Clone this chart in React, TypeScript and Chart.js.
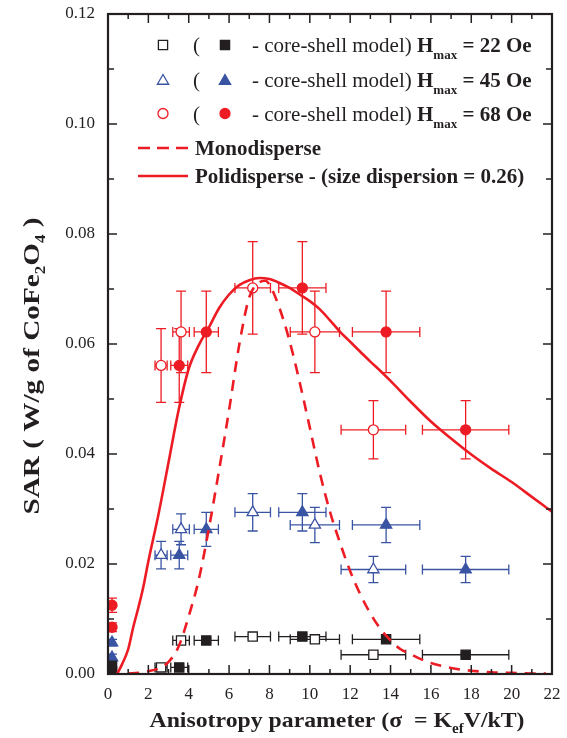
import React, { useEffect, useRef } from "react";
import { Chart, registerables } from "chart.js";

Chart.register(...registerables);

// ---------- axis ranges ----------
const X_MIN = 0;
const X_MAX = 22;
const X_STEP = 2;
const Y_MIN = 0;
const Y_MAX = 0.12;
const Y_STEP = 0.02;

// ---------- anisotropy parameter positions (shared by the three fields) ----------
const openX = [2.63, 3.62, 7.17, 10.25, 13.15];
const openXErr = [0.3, 0.41, 0.88, 1.22, 1.6];
const filledX = [0.2, 0.2, 3.53, 4.87, 9.63, 13.78, 17.72];
const filledXErr = [0, 0, 0.42, 0.6, 1.17, 1.67, 2.14];

// ---------- Hmax = 22 Oe (squares) ----------
const h22OpenY = [0.0012, 0.0061, 0.0068, 0.0063, 0.0035];
const h22OpenYErr = [0.0003, 0.0004, 0.0004, 0.0004, 0.0003];
const h22FilledY = [0.0015, 0.0005, 0.0012, 0.0061, 0.0068, 0.0063, 0.0035];
const h22FilledYErr = [0.0003, 0.0003, 0.0003, 0.0004, 0.0004, 0.0004, 0.0003];

// ---------- Hmax = 45 Oe (triangles) ----------
const h45OpenY = [0.0216, 0.0263, 0.0294, 0.0271, 0.019];
const h45OpenYErr = [0.0025, 0.0028, 0.0034, 0.0032, 0.0024];
const h45FilledY = [0.0057, 0.003, 0.0216, 0.0263, 0.0294, 0.0271, 0.019];
const h45FilledYErr = [0.0006, 0.0006, 0.0025, 0.0031, 0.0034, 0.0032, 0.0024];

// ---------- Hmax = 68 Oe (circles) ----------
const h68OpenY = [0.0561, 0.0622, 0.0702, 0.0622, 0.0444];
const h68OpenYErr = [0.0067, 0.0074, 0.0084, 0.0074, 0.0053];
const h68FilledY = [0.0125, 0.0085, 0.0561, 0.0622, 0.0702, 0.0622, 0.0444];
const h68FilledYErr = [0.0013, 0.0008, 0.0067, 0.0074, 0.0084, 0.0074, 0.0053];

// ---------- model curves ----------
const monoX = [1.0, 1.5, 2.0, 2.5, 3.0, 3.5, 4.0, 4.5, 5.0, 5.5, 6.0, 6.5, 7.0, 7.5, 7.8, 8.0, 8.5, 9.0, 9.5, 10.0, 10.5, 11.0, 11.5, 12.0, 12.5, 13.0, 13.5, 14.0, 14.5, 15.0, 15.5, 16.0, 16.5, 17.0, 17.5, 18.0, 19.0, 20.0, 21.0, 21.7];
const monoY = [0.0001, 0.0002, 0.0005, 0.001, 0.0022, 0.005, 0.0105, 0.0172, 0.0265, 0.037, 0.048, 0.0598, 0.0685, 0.0712, 0.0715, 0.0708, 0.0665, 0.0605, 0.053, 0.0448, 0.0365, 0.0295, 0.0238, 0.0187, 0.0145, 0.011, 0.0082, 0.0061, 0.0045, 0.0036, 0.0027, 0.002, 0.0015, 0.0011, 0.0008, 0.0006, 0.0003, 0.0002, 0.0001, 0.0001];

const polyX = [0.45, 0.7, 1.0, 1.25, 1.5, 1.75, 2.0, 2.5, 3.0, 3.5, 4.0, 4.5, 5.0, 5.5, 6.0, 6.5, 7.0, 7.5, 8.0, 8.5, 9.0, 9.5, 10.0, 10.5, 11.0, 11.5, 12.0, 12.5, 13.0, 13.5, 14.0, 15.0, 16.0, 17.0, 18.0, 19.0, 20.0, 21.0, 22.0];
const polyY = [0, 0.0018, 0.0045, 0.0085, 0.012, 0.0158, 0.0205, 0.029, 0.0385, 0.048, 0.0555, 0.0598, 0.063, 0.0665, 0.069, 0.0707, 0.0716, 0.072, 0.0718, 0.0711, 0.0702, 0.069, 0.0678, 0.0663, 0.0643, 0.0622, 0.0604, 0.0586, 0.0568, 0.0551, 0.0533, 0.0495, 0.0459, 0.0428, 0.0399, 0.0373, 0.0349, 0.0322, 0.0295];

// ---------- legend texts ----------
const fieldLabels = ["22 Oe", "45 Oe", "68 Oe"];
const modelLabels = ["Monodisperse", "Polidisperse - (size dispersion = 0.26)"];

const RED = "#ED1C24";
const BLUE = "#3A54A4";
const BLACK = "#231F20";
const INK = "#231F20";
const SERIF = "'Liberation Serif', 'Times New Roman', serif";

const pts = (xs: number[], ys: number[]) => xs.map((x, i) => ({ x, y: ys[i] }));

function markerPath(ctx: CanvasRenderingContext2D, style: string, x: number, y: number, r: number) {
  ctx.beginPath();
  if (style === "circle") {
    ctx.arc(x, y, r, 0, Math.PI * 2);
  } else if (style === "rect") {
    const s = r * Math.SQRT1_2;
    ctx.rect(x - s, y - s, 2 * s, 2 * s);
  } else {
    ctx.moveTo(x, y - r);
    ctx.lineTo(x + 0.866 * r, y + 0.5 * r);
    ctx.lineTo(x - 0.866 * r, y + 0.5 * r);
    ctx.closePath();
  }
}

function drawMarker(ctx: CanvasRenderingContext2D, style: string, x: number, y: number, r: number, color: string, open: boolean) {
  markerPath(ctx, style, x, y, r);
  ctx.fillStyle = open ? "#ffffff" : color;
  ctx.fill();
  ctx.lineWidth = 1.3;
  ctx.strokeStyle = color;
  ctx.stroke();
}

type Seg = { t: string; font: string; dy?: number };
function richWidth(ctx: CanvasRenderingContext2D, segs: Seg[]) {
  let w = 0;
  for (const s of segs) {
    ctx.font = s.font;
    w += ctx.measureText(s.t).width;
  }
  return w;
}
function drawRich(ctx: CanvasRenderingContext2D, segs: Seg[], x: number, y: number) {
  let cx = x;
  for (const s of segs) {
    ctx.font = s.font;
    ctx.fillText(s.t, cx, y + (s.dy || 0));
    cx += ctx.measureText(s.t).width;
  }
  return cx;
}

const errorBarPlugin = {
  id: "errorBars",
  beforeDatasetsDraw(chart: any) {
    const { ctx, chartArea: a } = chart;
    const xs = chart.scales.x;
    const ys = chart.scales.y;
    ctx.save();
    ctx.beginPath();
    ctx.rect(a.left, a.top, a.right - a.left, a.bottom - a.top);
    ctx.clip();
    ctx.lineWidth = 1.3;
    const cap = 5;
    chart.data.datasets.forEach((ds: any) => {
      if (!ds.errX) return;
      ctx.strokeStyle = ds.borderColor;
      ctx.beginPath();
      ds.data.forEach((p: any, i: number) => {
        const px = xs.getPixelForValue(p.x);
        const py = ys.getPixelForValue(p.y);
        const ex = ds.errX[i];
        const ey = ds.errY[i];
        if (ex > 0) {
          const l = xs.getPixelForValue(p.x - ex);
          const r = xs.getPixelForValue(p.x + ex);
          ctx.moveTo(l, py); ctx.lineTo(r, py);
          ctx.moveTo(l, py - cap); ctx.lineTo(l, py + cap);
          ctx.moveTo(r, py - cap); ctx.lineTo(r, py + cap);
        }
        if (ey > 0) {
          const t = ys.getPixelForValue(p.y + ey);
          const b = ys.getPixelForValue(p.y - ey);
          ctx.moveTo(px, t); ctx.lineTo(px, b);
          ctx.moveTo(px - cap, t); ctx.lineTo(px + cap, t);
          ctx.moveTo(px - cap, b); ctx.lineTo(px + cap, b);
        }
      });
      ctx.stroke();
    });
    ctx.restore();
  },
};

const framePlugin = {
  id: "frame",
  afterDraw(chart: any) {
    const { ctx, chartArea: a } = chart;
    const xs = chart.scales.x;
    const ys = chart.scales.y;
    ctx.save();
    ctx.strokeStyle = INK;
    ctx.lineWidth = 1.5;
    const xMaj = xs.ticks.map((t: any) => t.value);
    const xMin = xMaj.slice(1).map((v: number, i: number) => (v + xMaj[i]) / 2);
    const yMaj = ys.ticks.map((t: any) => t.value);
    const yMin = yMaj.slice(1).map((v: number, i: number) => (v + yMaj[i]) / 2);
    ctx.beginPath();
    const xt = (vals: number[], len: number) =>
      vals.forEach((v) => {
        const p = xs.getPixelForValue(v);
        ctx.moveTo(p, a.bottom); ctx.lineTo(p, a.bottom - len);
        ctx.moveTo(p, a.top); ctx.lineTo(p, a.top + len);
      });
    const yt = (vals: number[], len: number) =>
      vals.forEach((v) => {
        const p = ys.getPixelForValue(v);
        ctx.moveTo(a.left, p); ctx.lineTo(a.left + len, p);
        ctx.moveTo(a.right, p); ctx.lineTo(a.right - len, p);
      });
    xt(xMaj, 9); xt(xMin, 5);
    yt(yMaj, 9); yt(yMin, 6);
    ctx.stroke();
    ctx.lineWidth = 2.2;
    ctx.strokeRect(a.left, a.top, a.right - a.left, a.bottom - a.top);

    // ----- axis titles -----
    ctx.fillStyle = INK;
    ctx.textBaseline = "alphabetic";
    ctx.textAlign = "left";
    const B = (s: number) => `bold ${s}px ${SERIF}`;
    const xSegs: Seg[] = [
      { t: "Anisotropy parameter (σ  = K", font: B(22) },
      { t: "ef", font: B(14), dy: 6 },
      { t: "V/kT)", font: B(22) },
    ];
    const xw = richWidth(ctx, xSegs);
    ctx.save();
    ctx.translate(337, 727);
    ctx.scale(1.08, 1);
    drawRich(ctx, xSegs, -xw / 2, 0);
    ctx.restore();

    const ySegs: Seg[] = [
      { t: "SAR ( W/g of CoFe", font: B(24) },
      { t: "2", font: B(14), dy: 6 },
      { t: "O", font: B(24) },
      { t: "4", font: B(14), dy: 6 },
      { t: " )", font: B(24) },
    ];
    const yw = richWidth(ctx, ySegs);
    ctx.save();
    ctx.translate(39, 366);
    ctx.rotate(-Math.PI / 2);
    ctx.scale(297 / yw, 1);
    drawRich(ctx, ySegs, -yw / 2, 0);
    ctx.restore();

    // ----- legend -----
    const rows = [
      { style: "rect", color: BLACK, label: fieldLabels[0], cy: 45 },
      { style: "triangle", color: BLUE, label: fieldLabels[1], cy: 79.5 },
      { style: "circle", color: RED, label: fieldLabels[2], cy: 113.5 },
    ];
    rows.forEach((r) => {
      const rad = r.style === "circle" ? 5 : 6.5;
      const my = r.style === "triangle" ? r.cy + 1.5 : r.cy;
      drawMarker(ctx, r.style, 163, my, rad, r.color, true);
      drawMarker(ctx, r.style, 225, my, rad, r.color, false);
      ctx.fillStyle = INK;
      ctx.font = `21px ${SERIF}`;
      ctx.fillText("(", 193, r.cy + 7);
      drawRich(
        ctx,
        [
          { t: "- core-shell model) ", font: `21px ${SERIF}` },
          { t: "H", font: B(21) },
          { t: "max", font: B(13), dy: 7 },
          { t: " = " + r.label, font: B(21) },
        ],
        252,
        r.cy + 7
      );
    });
    ctx.strokeStyle = RED;
    ctx.lineWidth = 2.6;
    ctx.setLineDash([12, 7]);
    ctx.beginPath(); ctx.moveTo(138, 148); ctx.lineTo(188, 148); ctx.stroke();
    ctx.setLineDash([]);
    ctx.beginPath(); ctx.moveTo(138, 176); ctx.lineTo(188, 176); ctx.stroke();
    ctx.fillStyle = INK;
    ctx.font = B(21);
    ctx.fillText(modelLabels[0], 195, 155);
    ctx.fillText(modelLabels[1], 195, 183);
    ctx.restore();
  },
};

export default function App() {
  const ref = useRef<HTMLCanvasElement | null>(null);

  useEffect(() => {
    if (!ref.current) return;
    const scatter = (xs: number[], ys: number[], ex: number[], ey: number[], style: string, color: string, open: boolean) => ({
      type: "scatter" as const,
      data: pts(xs, ys),
      pointStyle: style,
      pointRadius: style === "circle" ? 5 : 6.5,
      backgroundColor: open ? "#ffffff" : color,
      borderColor: color,
      borderWidth: 1.3,
      errX: ex,
      errY: ey,
    });
    const chart = new Chart(ref.current, {
      type: "scatter",
      data: {
        datasets: [
          {
            type: "line",
            data: pts(monoX, monoY),
            borderColor: RED,
            borderWidth: 2.6,
            borderDash: [11, 8],
            pointRadius: 0,
            fill: false,
            showLine: true,
            cubicInterpolationMode: "monotone",
          } as any,
          {
            type: "line",
            data: pts(polyX, polyY),
            borderColor: RED,
            borderWidth: 2.6,
            pointRadius: 0,
            fill: false,
            showLine: true,
            cubicInterpolationMode: "monotone",
          } as any,
          scatter(openX, h22OpenY, openXErr, h22OpenYErr, "rect", BLACK, true) as any,
          scatter(filledX, h22FilledY, filledXErr, h22FilledYErr, "rect", BLACK, false) as any,
          scatter(openX, h45OpenY, openXErr, h45OpenYErr, "triangle", BLUE, true) as any,
          scatter(filledX, h45FilledY, filledXErr, h45FilledYErr, "triangle", BLUE, false) as any,
          scatter(openX, h68OpenY, openXErr, h68OpenYErr, "circle", RED, true) as any,
          scatter(filledX, h68FilledY, filledXErr, h68FilledYErr, "circle", RED, false) as any,
        ],
      },
      options: {
        animation: false,
        responsive: false,
        devicePixelRatio: 1,
        layout: { padding: { top: 14, right: 15, left: 0, bottom: 0 } },
        plugins: { legend: { display: false }, tooltip: { enabled: false }, title: { display: false } },
        scales: {
          x: {
            type: "linear",
            min: X_MIN,
            max: X_MAX,
            grid: { display: false, drawTicks: false },
            border: { display: false },
            ticks: {
              stepSize: X_STEP,
              padding: 10,
              color: INK,
              font: { family: SERIF, size: 17 },
              callback: (v: any) => String(Math.round(Number(v))),
            },
            afterFit: (s: any) => {
              s.height = 64;
              s.paddingLeft = 0;
              s.paddingRight = 0;
            },
          },
          y: {
            type: "linear",
            min: Y_MIN,
            max: Y_MAX,
            grid: { display: false, drawTicks: false },
            border: { display: false },
            ticks: {
              stepSize: Y_STEP,
              padding: 13,
              color: INK,
              font: { family: SERIF, size: 17 },
              callback: (v: any) => Number(v).toFixed(2),
            },
            afterFit: (s: any) => {
              s.width = 108;
              s.paddingTop = 0;
              s.paddingBottom = 0;
            },
          },
        },
      } as any,
      plugins: [errorBarPlugin, framePlugin],
    });
    return () => chart.destroy();
  }, []);

  return (
    <div style={{ position: "fixed", left: 0, top: 0, width: 567, height: 738, background: "#ffffff" }}>
      <canvas ref={ref} width={567} height={738} style={{ display: "block", width: 567, height: 738 }} />
    </div>
  );
}
